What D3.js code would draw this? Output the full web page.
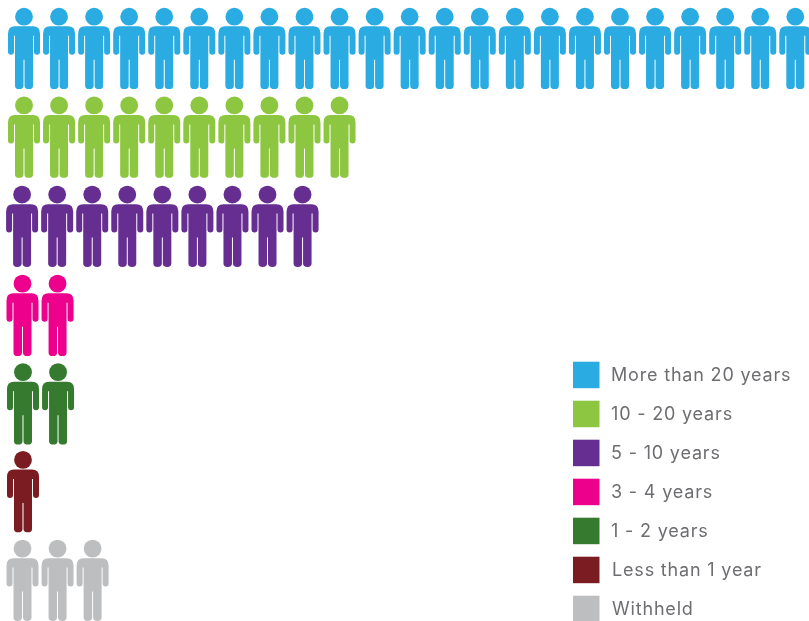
<!DOCTYPE html>
<html><head><meta charset="utf-8">
<script src="https://cdn.jsdelivr.net/npm/d3@7/dist/d3.min.js"></script>
<style>html,body{margin:0;padding:0;background:#fff}svg{display:block}</style>
</head><body><svg id="c" width="809" height="621"></svg>
<script>
const categories = ["More than 20 years","10 - 20 years","5 - 10 years","3 - 4 years","1 - 2 years","Less than 1 year","Withheld"];
const counts = [23,10,9,2,2,1,3];
const colors = ["#29abe2","#8dc63f","#662d91","#ec008c","#357a2e","#7a1f23","#bcbec0"];
const rowShiftX = [0.3,0.3,-1.6,-1.2,-0.7,-0.7,-1.2];
const rowShiftY = [0,0,0.4,0.8,0.6,-0.4,-0.4];

const svg = d3.select("#c");
const defs = svg.append("defs");
defs.append("filter").attr("id","soft").attr("x","-5%").attr("y","-5%").attr("width","110%").attr("height","110%")
  .append("feGaussianBlur").attr("stdDeviation",0.5);
const x = d3.scaleLinear().domain([0,22]).range([23.7,795]);
const y = d3.scalePoint().domain(categories).range([16.7,549]);
const legendY = d3.scalePoint().domain(categories).range([361.7,595.7]);

const icon = "M-16,17 Q-16,9.6 -9,9.6 L9,9.6 Q16,9.6 16,17 L16,35 Q16,38 13,38 Q10,38 10,35 L10,19 L9,19 L9,69 Q9,72.4 4.9,72.4 Q0.5,72.4 0.5,69 L0.5,43 L-0.5,43 L-0.5,69 Q-0.5,72.4 -4.9,72.4 Q-9,72.4 -9,69 L-9,19 L-10,19 L-10,35 Q-10,38 -13,38 Q-16,38 -16,35 Z";

const root = svg.append("g").attr("filter","url(#soft)");
const rows = root.append("g").selectAll("g").data(categories).join("g")
  .attr("fill",(d,i)=>colors[i])
  .attr("transform",(d,i)=>`translate(${rowShiftX[i]},${y(d)+rowShiftY[i]})`);
const people = rows.selectAll("g").data((d,i)=>d3.range(counts[i])).join("g")
  .attr("transform",k=>`translate(${x(k)},0)`);
people.append("circle").attr("r",8.9);
people.append("path").attr("d",icon);

const lg = root.append("g").selectAll("g").data(categories).join("g")
  .attr("transform",d=>`translate(0,${legendY(d)})`);
lg.append("rect").attr("x",573).attr("width",26.5).attr("height",26.5).attr("fill",(d,i)=>colors[i]);
lg.append("text").attr("x",(d,i)=>i>=5?612:611).attr("y",19.5)
  .attr("font-family","Inter, 'Open Sans', sans-serif").attr("font-size",18)
  .attr("letter-spacing",0.82).attr("fill","#6d6e71").text(d=>d);
</script></body></html>
